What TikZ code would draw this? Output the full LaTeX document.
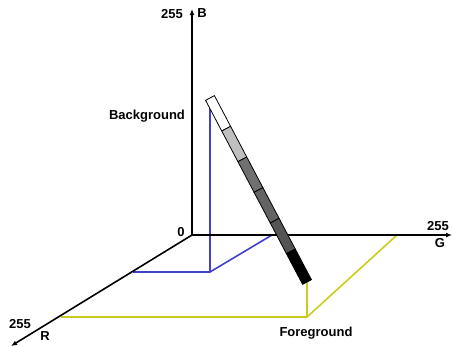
\documentclass[tikz,border=0pt]{standalone}
\usepackage{fontspec}
\setmainfont{Liberation Sans}
\usetikzlibrary{arrows.meta,calc}
\definecolor{projblue}{RGB}{64,64,200}
\definecolor{projyellow}{RGB}{204,204,32}

\begin{document}
\begin{tikzpicture}[
  x=1pt, y=-1pt,
  font=\fontsize{13}{15}\selectfont\bfseries,
  axis/.style={-{Latex[length=6pt,width=5pt]}, line width=1.6pt},
  proj/.style={line width=1.6pt},
  lbl/.style={inner sep=0pt},
  seg/.style={draw, line width=0.8pt, inner sep=0pt, minimum width=34.7pt, minimum height=10pt, sloped}
]
\useasboundingbox (0,0) rectangle (452,346);
% axes
\coordinate (o) at (192,235);
\coordinate (bmax) at (192,9);
\coordinate (gmax) at (452,235);
\coordinate (rmax) at (11,346);
% bar ends
\coordinate (btop) at (210,98);
\coordinate (bbot) at (307,282);
% projections
\coordinate (bgr) at (133,272);
\coordinate (bgp) at (210,272);
\coordinate (bgg) at (272,235);
\coordinate (fgr) at (61,317);
\coordinate (fgp) at (307,317);
\coordinate (fgg) at (397,235);
\draw[proj, projblue] (btop) -- (bgp);
\draw[proj, projblue] (bgr) -- (bgp) -- (bgg);
\draw[proj, projyellow] (fgr) -- (fgp) -- (fgg);
\draw[proj, projyellow] (fgp) -- (bbot);
\draw[axis] (o) -- (bmax);
\draw[axis] (o) -- (gmax);
\draw[axis] (o) -- (rmax);
% grey bar
\foreach \tone [count=\i] in {white, black!25, black!56, black!61, black!67, black}
  \path (btop) -- (bbot) node[seg, fill=\tone, pos={(2*\i-1)/12}] (s\i) {};
% labels
\node[lbl] (zero) at (181,232) {0};
\node[lbl] (bnum) at (172,14) {255};
\node[lbl] (blbl) at (202,13) {B};
\node[lbl] (gnum) at (438,226) {255};
\node[lbl] (glbl) at (440,243) {G};
\node[lbl] (rnum) at (20,324) {255};
\node[lbl] (rlbl) at (45,336) {R};
\node[lbl] (bg) at (147,116) {Background};
\node[lbl] (fg) at (316,333) {Foreground};
\end{tikzpicture}
\end{document}
